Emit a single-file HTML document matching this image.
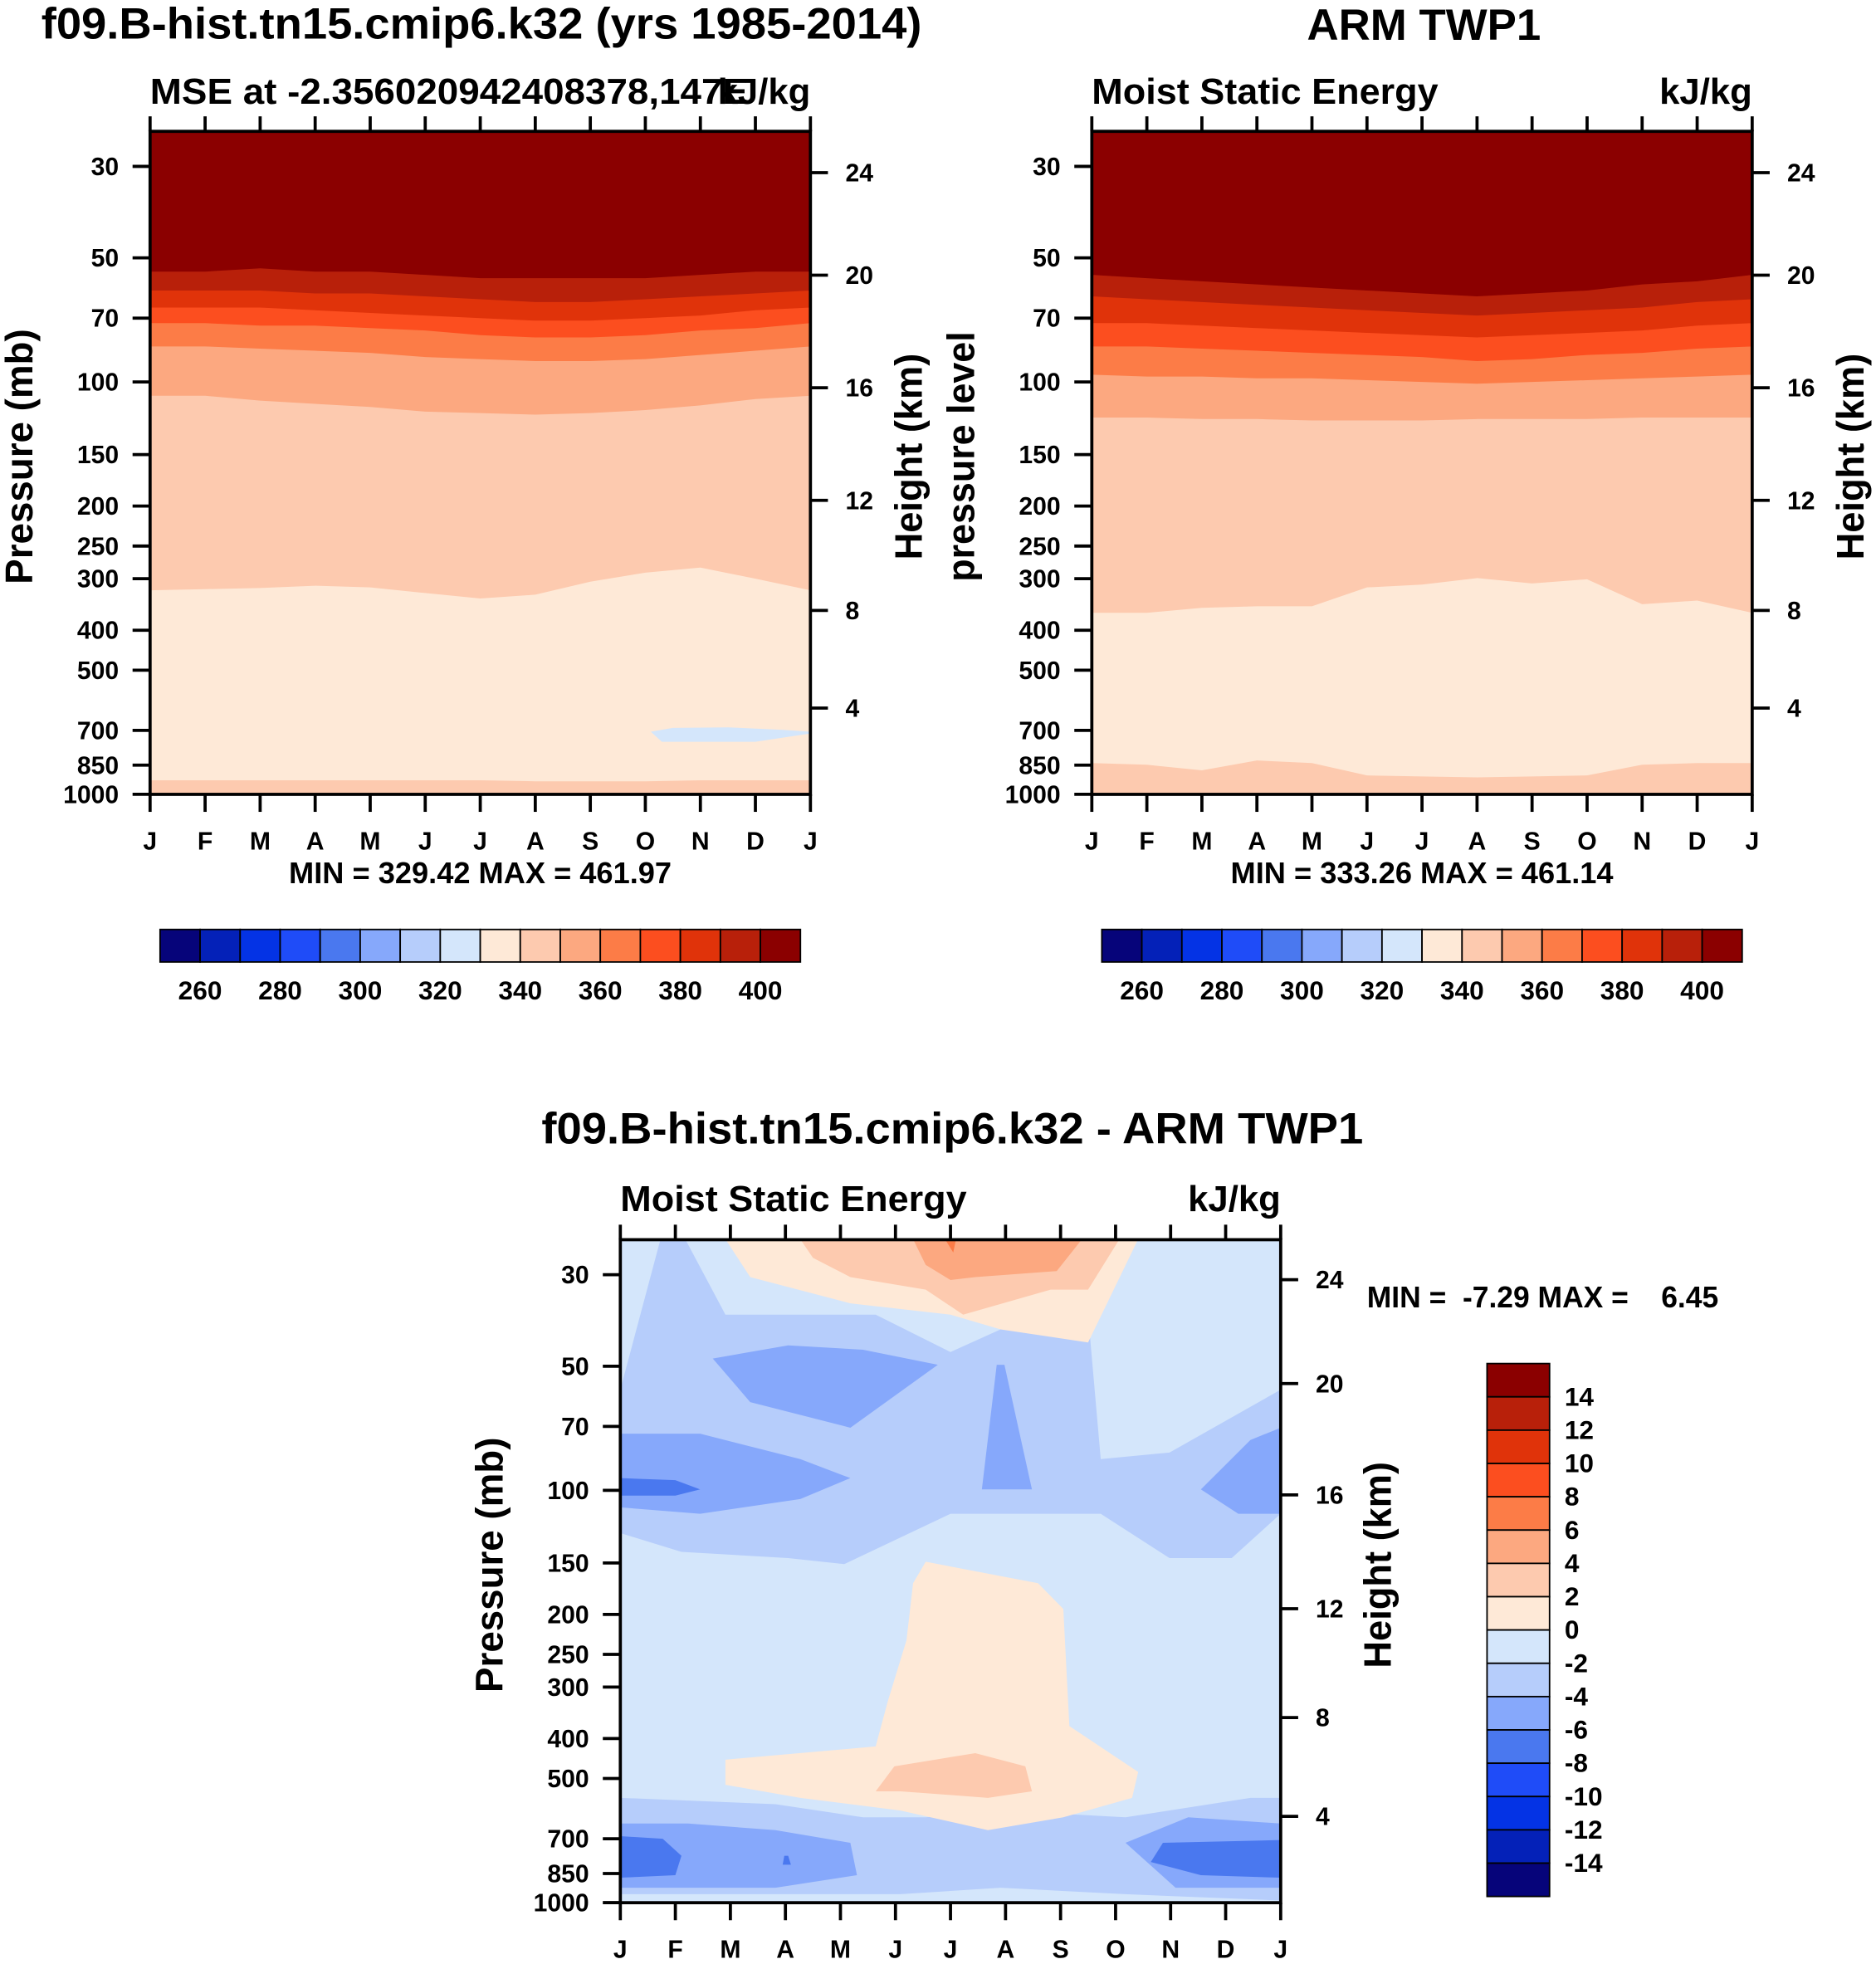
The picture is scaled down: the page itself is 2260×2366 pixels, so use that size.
<!DOCTYPE html>
<html><head><meta charset="utf-8"><style>
html,body{margin:0;padding:0;background:#fff;}
svg{display:block;font-family:"Liberation Sans",Arial,sans-serif;font-weight:bold;}
</style></head><body>
<svg id="fig" xmlns="http://www.w3.org/2000/svg" width="2260" height="2366" viewBox="0 0 1500 1570" preserveAspectRatio="none">
<rect width="1500" height="1570" fill="#fff"/>
<text x="33" y="31" font-size="35" textLength="704" lengthAdjust="spacingAndGlyphs">f09.B-hist.tn15.cmip6.k32 (yrs 1985-2014)</text>
<text x="1045" y="32" font-size="35" textLength="187" lengthAdjust="spacingAndGlyphs">ARM TWP1</text>
<text x="433" y="914" font-size="35" textLength="657" lengthAdjust="spacingAndGlyphs">f09.B-hist.tn15.cmip6.k32 - ARM TWP1</text>
<text x="1093" y="1045" font-size="24" textLength="281" lengthAdjust="spacingAndGlyphs" xml:space="preserve">MIN =  -7.29 MAX =    6.45</text>
</svg>
<script>
const months = ["J","F","M","A","M","J","J","A","S","O","N","D","J"];
const pTicks = [30,50,70,100,150,200,250,300,400,500,700,850,1000];
const hTickLabels = ["24","20","16","12","8","4"];
const colors = ["#06047a","#0421b8","#0433e5","#1f4cf8","#4a78ef","#86a8fb","#b6cdfb","#d4e6fb","#fee9d7","#fdcaaf","#fca880","#fc7c47","#fc4e1f","#e0330a","#b8200a","#8b0000"];
const cbLabelsAbs = ["260","280","300","320","340","360","380","400"];
const cbLabelsDiff = ["14","12","10","8","6","4","2","0","-2","-4","-6","-8","-10","-12","-14"];

// Model (panel 1) contour boundary pressures per month
const m_b340 = [925,925,925,925,925,925,925,930,930,930,925,925,925];
const m_b350 = [320,318,316,312,315,325,335,328,305,290,282,300,320];
const m_b360 = [108,108,111,113,115,118,119,120,119,117,114,110,108];
const m_b370 = [82,82,83,84,85,87,88,89,89,88,86,84,82];
const m_b380 = [72,72,73,73,74,75,77,78,78,77,75,74,72];
const m_b390 = [66,66,66,67,68,69,70,71,71,70,69,67,66];
const m_b400 = [60,60,60,61,61,62,63,64,64,63,62,61,60];
const m_b410 = [54,54,53,54,54,55,56,56,56,56,55,54,54];
const m_blue = [[9.1,705],[9.5,690],[10.5,688],[11.5,698],[12,705],[12,712],[11,746],[10,746],[9.3,746]];

// Obs (panel 2)
const o_b340 = [840,848,875,828,840,900,905,910,905,900,848,840,840];
const o_b350 = [363,363,353,350,350,315,310,299,308,301,346,339,363];
const o_b360 = [122,122,123,123,124,124,124,123,123,123,122,122,122];
const o_b370 = [96,97,97,98,98,99,100,101,100,99,98,97,96];
const o_b380 = [82,82,83,84,85,86,87,89,88,86,85,83,82];
const o_b390 = [72,72,73,74,75,76,77,78,77,76,75,73,72];
const o_b400 = [62,63,64,65,66,67,68,69,68,67,66,64,63];
const o_b410 = [55,56,57,58,59,60,61,62,61,60,58,57,55];

// Difference (panel 3) regions: [colorIndex, [[month,pressure],...]]
const d_regions = [
 [6,[[0,57],[0.73,24.6],[1.18,24.6],[1.91,37.5],[4.64,37.5],[6,46.2],[6.91,40.7],[8.5,37.5],[8.73,84],[9.98,81],[12,57],[12,114],[11.11,146],[9.98,146],[8.73,114],[6,114],[4.07,151],[3.05,146],[1.11,141],[0,127]]],
 [6,[[0,557],[2.82,577],[4.41,621],[5.55,621],[6.91,598],[9.18,621],[11.45,557],[12,557],[12,988],[9.18,954],[6.91,920],[5.09,954],[0,954]]],
 [5,[[1.68,47.9],[3.05,44.5],[4.41,45.6],[5.77,49.6],[4.18,70.5],[2.36,61.1]]],
 [5,[[0,72.9],[1.45,72.9],[3.27,84],[4.18,93.4],[3.27,105],[1.45,114],[0,110]]],
 [5,[[10.55,99.5],[11.45,75.5],[12,70.5],[12,114],[11.23,114]]],
 [5,[[6.84,49.6],[6.98,49.6],[7.48,99.5],[6.57,99.5]]],
 [5,[[0,643],[1.23,643],[2.82,667],[4.18,716],[4.3,858],[2.82,920],[0,920]]],
 [5,[[9.18,716],[10.32,621],[12,643],[12,920],[10.09,920]]],
 [4,[[0,93.4],[1,94.5],[1.45,99.5],[1,103],[0,103]]],
 [4,[[0,690],[0.77,700],[1.11,770],[1,858],[0,870]]],
 [4,[[9.86,716],[12,705],[12,870],[10.55,858],[9.64,797]]],
 [4,[[2.98,770],[3.05,770],[3.1,809],[2.95,809]]],
 [8,[[1.91,24.6],[9.41,24.6],[8.5,43.8],[6.91,40.7],[6,37.5],[4.18,35.2],[2.36,30.4]]],
 [8,[[5.55,149],[7.59,168],[8.05,194],[8.16,373],[9.41,482],[9.3,557],[8.05,621],[6.68,667],[5.09,598],[3.27,557],[1.91,518],[1.91,450],[4.64,418],[4.86,325],[5.2,231],[5.32,168]]],
 [9,[[3.27,24.6],[9.07,24.6],[8.5,32.6],[7.82,32.6],[6.23,37.5],[5.55,32.6],[4.18,30.4],[3.5,27.3]]],
 [9,[[4.64,537],[4.98,467],[6.45,434],[7.36,467],[7.48,537],[6.68,557],[5.09,537]]],
 [10,[[5.32,24.6],[8.39,24.6],[7.93,29.4],[6.45,30.4],[6,30.9],[5.55,28.4]]],
 [11,[[5.9,24.6],[6.1,24.6],[6.05,26.5]]]
];

const NS="http://www.w3.org/2000/svg";
const svg=document.getElementById('fig');
function el(tag,attrs,parent){const e=document.createElementNS(NS,tag);for(const k in attrs)e.setAttribute(k,attrs[k]);(parent||svg).appendChild(e);return e;}
function txt(x,y,s,size,anchor,parent){const t=el('text',{x:x,y:y,'font-size':size,'text-anchor':anchor||'start'},parent);t.textContent=s;return t;}

function makePanel(x0,y0,name){
  const W=528,H=530, yTop=y0, y30=y0+28, ppd=329.6;
  const xs=m=>x0+m*W/12;
  const ys=p=>y30+Math.log10(p/30)*ppd;
  const g=el('g',{});
  
  
  const clip=el('clipPath',{id:'clip-'+name},g);
  el('rect',{x:x0,y:yTop,width:W,height:H},clip);
  const plot=el('g',{'clip-path':'url(#clip-'+name+')'},g);
  
  
  return {g,plot,xs,ys,x0,y0,W,H};
}
function bandPoly(P,upper,lower,color,nm){
  let pts=[];
  for(let i=0;i<13;i++)pts.push(P.xs(i)+','+(upper?P.ys(upper[i]):P.y0-2));
  for(let i=12;i>=0;i--)pts.push(P.xs(i)+','+(lower?P.ys(lower[i]):P.y0+P.H+2));
  const e=el('polygon',{points:pts.join(' '),fill:color},P.plot);
  
  
}
function regionPoly(P,pts,color,nm){
  const e=el('polygon',{points:pts.map(q=>P.xs(q[0])+','+P.ys(q[1])).join(' '),fill:color},P.plot);
  
  
}
function axes(P,leftTitle,rightTitle,hTickY,leftX,rightX,leftLen,rightLen){
  const g=P.g, x0=P.x0,y0=P.y0,W=P.W,H=P.H;
  const fr=el('rect',{x:x0,y:y0,width:W,height:H,fill:'none',stroke:'#000','stroke-width':2.5},g);
  
  
  months.forEach((m,i)=>{
    const x=P.xs(i);
    el('line',{x1:x,y1:y0,x2:x,y2:y0-12,stroke:'#000','stroke-width':2.5},g);
    el('line',{x1:x,y1:y0+H,x2:x,y2:y0+H+14,stroke:'#000','stroke-width':2.5},g);
    const t=txt(x,y0+H+44,m,20,'middle',g);
    
    
  });
  pTicks.forEach(p=>{
    const y=P.ys(p);
    el('line',{x1:x0,y1:y,x2:x0-14,y2:y,stroke:'#000','stroke-width':2.5},g);
    const t=txt(x0-25,y+7,String(p),20,'end',g);
    
    
  });
  hTickLabels.forEach((h,i)=>{
    const y=hTickY[i];
    el('line',{x1:x0+W,y1:y,x2:x0+W+14,y2:y,stroke:'#000','stroke-width':2.5},g);
    const t=txt(x0+W+28,y+7,h,20,'start',g);
    
    
  });
  const cy=y0+H/2-5;
  const lt=txt(0,0,leftTitle,31,'middle',g);
  lt.setAttribute('transform','translate('+leftX+','+cy+') rotate(-90)');
  lt.setAttribute('textLength',leftLen);
  lt.setAttribute('lengthAdjust','spacingAndGlyphs');
  
  
  const rt=txt(0,0,rightTitle,31,'middle',g);
  rt.setAttribute('transform','translate('+rightX+','+cy+') rotate(-90)');
  rt.setAttribute('textLength',rightLen);
  rt.setAttribute('lengthAdjust','spacingAndGlyphs');
  
  
}
function absPanel(x0,name,b,extra,leftTitle,leftX,leftLen,sub,subLen,minmax){
  const P=makePanel(x0,105,name);
  bandPoly(P,null,null,colors[9],'band-350');
  bandPoly(P,b[1],b[0],colors[8],'band-340');
  for(let k=2;k<b.length;k++)bandPoly(P,null,b[k],colors[8+k],'band-'+(340+10*k));
  if(extra)regionPoly(P,extra,colors[7],'band-330');
  axes(P,leftTitle,'Height (km)',[138,220,310,400,488,566],leftX,x0+617,leftLen,165);
  const s=txt(x0,83,sub,29,'start',P.g);
  s.setAttribute('textLength',subLen);
  s.setAttribute('lengthAdjust','spacingAndGlyphs');
  
  
  const u=txt(x0+528,83,'kJ/kg',29,'end',P.g);
  
  
  const mm=txt(x0+264,706,minmax,24,'middle',P.g);
  mm.setAttribute('textLength',306);
  mm.setAttribute('lengthAdjust','spacingAndGlyphs');
  
  
  const cb=el('g',{},P.g);
  
  
  const cx=x0+8, bw=32;
  colors.forEach((c,i)=>{
    const r=el('rect',{x:cx+i*bw,y:743,width:bw,height:26,fill:c,stroke:'#000','stroke-width':1.2},cb);
    
    
  });
  cbLabelsAbs.forEach((l,i)=>{
    const t=txt(cx+bw*(1+2*i),799,l,21,'middle',cb);
    
    
  });
}
absPanel(120,'model-panel',[m_b340,m_b350,m_b360,m_b370,m_b380,m_b390,m_b400,m_b410],m_blue,'Pressure (mb)',26,204,'MSE at -2.356020942408378,147E',478,'MIN = 329.42 MAX = 461.97');
absPanel(873,'obs-panel',[o_b340,o_b350,o_b360,o_b370,o_b380,o_b390,o_b400,o_b410],null,'pressure level',779,200,'Moist Static Energy',277,'MIN = 333.26 MAX = 461.14');

// Difference panel
const D=makePanel(496,991,'diff-panel');
bandPoly(D,null,null,colors[7],'diff-background');
d_regions.forEach((r,i)=>regionPoly(D,r[1],colors[r[0]],'diff-region'));
axes(D,'Pressure (mb)','Height (km)',[1023,1106,1195,1286,1373,1452],402,1112,204,165);
const s3=txt(496,968,'Moist Static Energy',29,'start',D.g);
s3.setAttribute('textLength',277);
s3.setAttribute('lengthAdjust','spacingAndGlyphs');


const u3=txt(1024,968,'kJ/kg',29,'end',D.g);


const vcb=el('g',{});


const bh=426/16;
colors.slice().reverse().forEach((c,i)=>{
  const r=el('rect',{x:1189,y:1090+i*bh,width:50,height:bh,fill:c,stroke:'#000','stroke-width':1.2},vcb);
  
  
});
cbLabelsDiff.forEach((l,i)=>{
  const t=txt(1251,1090+(i+1)*bh+7,l,21,'start',vcb);
  
  
});
</script>
</body></html>
